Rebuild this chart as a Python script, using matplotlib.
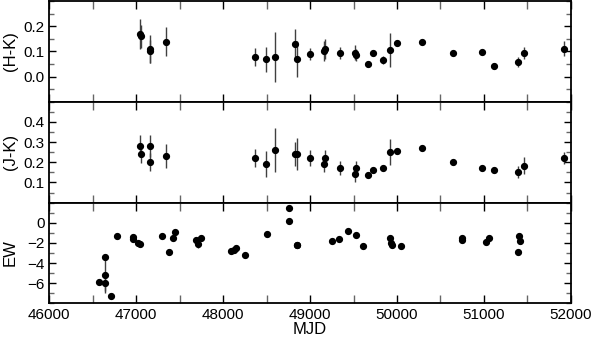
import matplotlib
matplotlib.use('Agg')
import matplotlib.pyplot as plt
from matplotlib.ticker import MultipleLocator

plt.rcParams['font.family'] = ['Liberation Sans', 'DejaVu Sans']

# (H-K) colour
hk_mjd = [47045, 47050, 47158, 47163, 47338, 48364, 48491, 48594, 48821, 48851,
          49000, 49165, 49172, 49341, 49514, 49533, 49663, 49721, 49836, 49924,
          50000, 50292, 50645, 50977, 51111, 51387, 51456, 51924]
hk_val = [0.17, 0.16, 0.11, 0.10, 0.138, 0.079, 0.069, 0.079, 0.13, 0.07,
          0.09, 0.101, 0.109, 0.094, 0.094, 0.085, 0.05, 0.095, 0.066, 0.106,
          0.132, 0.138, 0.092, 0.099, 0.043, 0.059, 0.094, 0.11]
hk_err = [0.06, 0.045, 0.057, 0.045, 0.058, 0.035, 0.05, 0.1, 0.057, 0.07,
          0.024, 0.04, 0.04, 0.025, 0.03, 0.025, 0.012, 0.012, 0.015, 0.066,
          0.0, 0.0, 0.0, 0.0, 0.012, 0.02, 0.025, 0.03]

# (J-K) colour
jk_mjd = [47045, 47050, 47158, 47163, 47338, 48364, 48491, 48594, 48821, 48851,
          49000, 49165, 49170, 49341, 49514, 49533, 49663, 49721, 49836, 49924,
          50000, 50292, 50645, 50977, 51111, 51387, 51456, 51924]
jk_val = [0.28, 0.24, 0.28, 0.20, 0.23, 0.22, 0.19, 0.26, 0.24, 0.24,
          0.22, 0.19, 0.22, 0.17, 0.143, 0.174, 0.136, 0.16, 0.17, 0.25,
          0.257, 0.27, 0.203, 0.174, 0.164, 0.15, 0.184, 0.22]
jk_err = [0.055, 0.045, 0.055, 0.045, 0.06, 0.045, 0.065, 0.11, 0.06, 0.08,
          0.04, 0.04, 0.04, 0.035, 0.04, 0.03, 0.0, 0.0, 0.0, 0.065,
          0.0, 0.0, 0.0, 0.0, 0.0, 0.03, 0.04, 0.03]

# equivalent width
ew_mjd = [46575, 46644, 46644, 46644, 46713, 46775, 46958, 46962, 47023, 47043,
          47299, 47376, 47425, 47448, 47682, 47705, 47740, 48096, 48123, 48146,
          48257, 48499, 48759, 48759, 48844, 48851, 49249, 49330, 49437, 49529,
          49614, 49920, 49930, 49940, 50050, 50745, 50745, 51027, 51054, 51387,
          51406, 51410]
ew_val = [-5.9, -3.4, -5.2, -6.0, -7.3, -1.3, -1.45, -1.6, -2.05, -2.1,
          -1.3, -2.9, -1.5, -0.95, -1.7, -2.1, -1.5, -2.85, -2.7, -2.5,
          -3.2, -1.1, 1.43, 0.16, -2.24, -2.17, -1.77, -1.63, -0.83, -1.17,
          -2.27, -1.5, -2.0, -2.24, -2.3, -1.5, -1.74, -1.87, -1.5, -2.87,
          -1.3, -1.84]
ew_err = [0.0, 0.0, 1.8, 0.8, 0.3, 0.0, 0.0, 0.0, 0.0, 0.0,
          0.0, 0.3, 0.0, 0.0, 0.0, 0.4, 0.0, 0.0, 0.0, 0.0,
          0.0, 0.0, 0.0, 0.0, 0.3, 0.3, 0.0, 0.0, 0.0, 0.0,
          0.0, 0.0, 0.0, 0.3, 0.3, 0.0, 0.0, 0.0, 0.0, 0.0,
          0.3, 0.3]

fig, axes = plt.subplots(3, 1, sharex=True, figsize=(5.94, 3.39), dpi=100)
fig.subplots_adjust(left=0.083, right=0.961, top=0.997, bottom=0.105, hspace=0)

panels = [
    (hk_mjd, hk_val, hk_err, '(H-K)', (-0.1, 0.3), [0.0, 0.1, 0.2], 0.05),
    (jk_mjd, jk_val, jk_err, '(J-K)', (0.0, 0.5), [0.1, 0.2, 0.3, 0.4], 0.05),
    (ew_mjd, ew_val, ew_err, 'EW', (-8, 2), [-6, -4, -2, 0], 1),
]

for ax, (x, y, e, lab, lim, yt, minor) in zip(axes, panels):
    ax.errorbar(x, y, yerr=e, fmt='o', color='black', ms=4.2,
                ecolor='0.25', elinewidth=1, capsize=0)
    ax.set_ylim(*lim)
    ax.set_yticks(yt)
    ax.yaxis.set_minor_locator(MultipleLocator(minor))
    ax.set_ylabel(lab, fontsize=12)
    ax.xaxis.set_major_locator(MultipleLocator(1000))
    ax.xaxis.set_minor_locator(MultipleLocator(500))
    ax.tick_params(which='both', direction='in', top=True, right=True, labelsize=11)
    ax.tick_params(axis='y', which='major', length=5, width=1)
    ax.tick_params(axis='y', which='minor', length=3.5, width=1, color='0.4')
    ax.tick_params(axis='x', which='major', length=6, width=1)
    ax.tick_params(axis='x', which='minor', length=6, width=1, color='0.4')
    for s in ax.spines.values():
        s.set_linewidth(1.3)

axes[2].set_xlim(46000, 52000)
axes[2].set_xlabel('MJD', fontsize=12, labelpad=0)
fig.align_ylabels(axes)

plt.savefig('out.png')
